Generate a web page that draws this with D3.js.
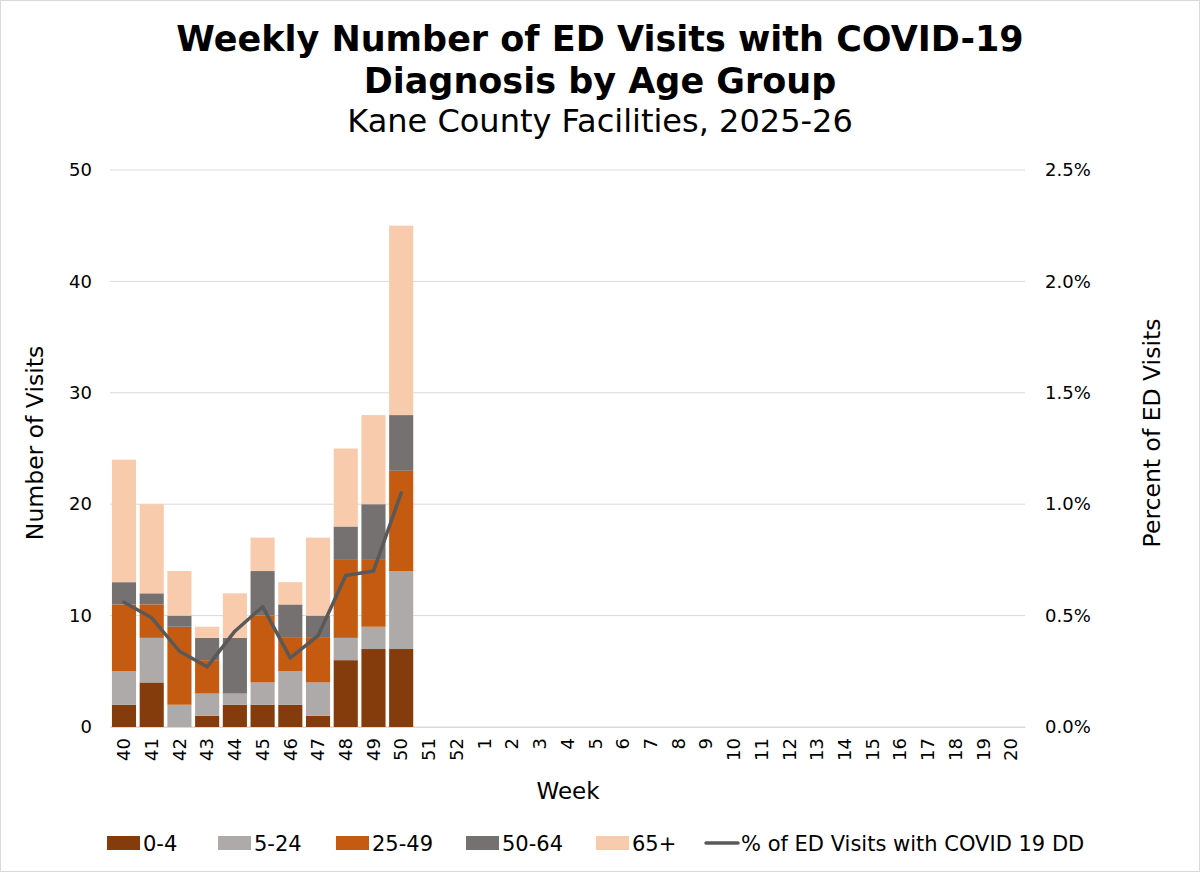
<!DOCTYPE html>
<html lang="en">
<head>
<meta charset="UTF-8">
<title>Weekly Number of ED Visits with COVID-19 Diagnosis by Age Group</title>
<script src="https://d3js.org/d3.v7.min.js"></script>
<style>
    body { margin: 0; background: #fff; }
    svg { display: block; font-family: "DejaVu Sans", Verdana, sans-serif; }
</style>
</head>
<body>
<div id="chart"></div>
<script>
// Weeks of the 2025-26 season
const weeks = ["40","41","42","43","44","45","46","47","48","49","50","51","52",
    "1","2","3","4","5","6","7","8","9","10","11","12","13","14","15","16","17","18","19","20"];

// Visits per age group (only weeks 40-50 reported so far)
const age0_4   = [2, 4, 0, 1, 2, 2, 2, 1, 6, 7, 7];
const age5_24  = [3, 4, 2, 2, 1, 2, 3, 3, 2, 2, 7];
const age25_49 = [6, 3, 7, 3, 0, 6, 3, 4, 7, 6, 9];
const age50_64 = [2, 1, 1, 2, 5, 4, 3, 2, 3, 5, 5];
const age65    = [11, 8, 4, 1, 4, 3, 2, 7, 7, 8, 17];

// % of ED visits with COVID-19 diagnosis
const pctED = [0.56, 0.49, 0.34, 0.27, 0.43, 0.54, 0.31, 0.41, 0.68, 0.70, 1.05];

const groups = ["0-4", "5-24", "25-49", "50-64", "65+"];
const groupValues = [age0_4, age5_24, age25_49, age50_64, age65];
const colors = ["#843C0C", "#AEAAAA", "#C55A11", "#767171", "#F8CBAD"];
const lineLabel = "% of ED Visits with COVID 19 DD";

const W = 1200, H = 872;
const margin = { left: 110, right: 175, top: 170, bottom: 145 };
const tickFont = 18;

const svg = d3.select("#chart").append("svg")
    .attr("width", W).attr("height", H);

svg.append("rect").attr("x", 0.5).attr("y", 0.5)
    .attr("width", W - 1).attr("height", H - 1)
    .attr("fill", "#fff").attr("stroke", "#d9d9d9");

// titles
svg.append("text").attr("x", 600).attr("y", 51).attr("text-anchor", "middle")
    .attr("font-size", 35).attr("font-weight", "bold").attr("fill", "#000")
    .text("Weekly Number of ED Visits with COVID-19");
svg.append("text").attr("x", 600).attr("y", 93).attr("text-anchor", "middle")
    .attr("font-size", 35).attr("font-weight", "bold").attr("fill", "#000")
    .text("Diagnosis by Age Group");
svg.append("text").attr("x", 600).attr("y", 132).attr("text-anchor", "middle")
    .attr("font-size", 32).attr("fill", "#000")
    .text("Kane County Facilities, 2025-26");

const x = d3.scaleBand().domain(weeks)
    .range([margin.left, W - margin.right]).paddingInner(0.13).paddingOuter(0.07);
const y = d3.scaleLinear().domain([0, 50]).range([H - margin.bottom, margin.top]);
const y2 = d3.scaleLinear().domain([0, 2.5]).range([H - margin.bottom, margin.top]);

// gridlines
svg.append("g").selectAll("line").data(y.ticks(5)).join("line")
    .attr("x1", margin.left).attr("x2", W - margin.right)
    .attr("y1", d => y(d)).attr("y2", d => y(d))
    .attr("stroke", "#d9d9d9").attr("stroke-width", 1);

// left axis
const yAxis = svg.append("g").attr("transform", `translate(${margin.left},0)`)
    .call(d3.axisLeft(y).ticks(5).tickSize(0).tickPadding(18));
yAxis.select(".domain").remove();
yAxis.selectAll("text").attr("font-size", tickFont).attr("fill", "#000")
    .attr("font-family", "DejaVu Sans, Verdana, sans-serif");

// right axis
const y2Axis = svg.append("g").attr("transform", `translate(${W - margin.right},0)`)
    .call(d3.axisRight(y2).ticks(5).tickSize(0).tickPadding(20).tickFormat(d => d.toFixed(1) + "%"));
y2Axis.select(".domain").remove();
y2Axis.selectAll("text").attr("font-size", tickFont).attr("fill", "#000")
    .attr("font-family", "DejaVu Sans, Verdana, sans-serif");

// stacked bars
const rows = weeks.slice(0, age0_4.length).map((w, i) => {
    const r = { week: w };
    groups.forEach((g, k) => r[g] = groupValues[k][i]);
    return r;
});
const stacked = d3.stack().keys(groups)(rows);

svg.append("g").selectAll("g").data(stacked).join("g")
    .attr("fill", (d, i) => colors[i])
    .selectAll("rect").data(d => d).join("rect")
    .attr("x", d => x(d.data.week))
    .attr("width", x.bandwidth())
    .attr("y", d => y(d[1]))
    .attr("height", d => y(d[0]) - y(d[1]));

// bottom axis
const xAxis = svg.append("g").attr("transform", `translate(0,${H - margin.bottom})`)
    .call(d3.axisBottom(x).tickSize(0).tickPadding(10));
xAxis.select(".domain").attr("stroke", "#d9d9d9");
xAxis.selectAll("text").attr("font-size", tickFont).attr("fill", "#000")
    .attr("font-family", "DejaVu Sans, Verdana, sans-serif")
    .attr("transform", "rotate(-90)")
    .attr("text-anchor", "end").attr("dy", "0.35em")
    .attr("x", -11).attr("y", 0);

// percent line
const line = d3.line()
    .x((d, i) => x(weeks[i]) + x.bandwidth() / 2)
    .y(d => y2(d));
svg.append("path").datum(pctED)
    .attr("d", line).attr("fill", "none")
    .attr("stroke", "#595959").attr("stroke-width", 3.5)
    .attr("stroke-linejoin", "round").attr("stroke-linecap", "round");

// axis titles
svg.append("text").attr("x", 568).attr("y", 799).attr("text-anchor", "middle")
    .attr("font-size", 23).attr("fill", "#000").text("Week");
svg.append("text").attr("transform", "translate(43,443) rotate(-90)")
    .attr("text-anchor", "middle").attr("font-size", 23.5).attr("fill", "#000")
    .text("Number of Visits");
svg.append("text").attr("transform", "translate(1160,433) rotate(-90)")
    .attr("text-anchor", "middle").attr("font-size", 23.5).attr("fill", "#000")
    .text("Percent of ED Visits");

// legend
const legendX = [107, 218, 336, 466, 596];
const lg = svg.append("g");
groups.forEach((g, i) => {
    lg.append("rect").attr("x", legendX[i]).attr("y", 836)
        .attr("width", 33).attr("height", 14).attr("fill", colors[i]);
    lg.append("text").attr("x", legendX[i] + 36).attr("y", 851)
        .attr("font-size", 21).attr("fill", "#000").text(g);
});
lg.append("line").attr("x1", 706).attr("x2", 738).attr("y1", 843).attr("y2", 843)
    .attr("stroke", "#595959").attr("stroke-width", 3.5).attr("stroke-linecap", "round");
lg.append("text").attr("x", 741).attr("y", 851)
    .attr("font-size", 21).attr("fill", "#000").text(lineLabel);
</script>
</body>
</html>
